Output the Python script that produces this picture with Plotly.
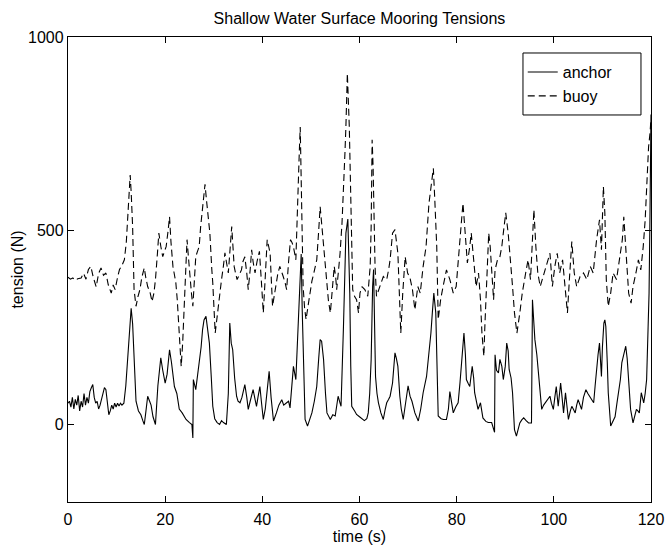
import plotly.graph_objects as go

# ---- data ----
anchor_t = [0, 0.3, 0.6, 0.9, 1.2, 1.5, 1.8, 2.1, 2.4, 2.7, 3.0, 3.3, 3.6, 3.9, 4.2, 4.5, 4.8, 5.1, 5.4, 5.7,
            6.0, 6.3, 6.6, 6.9, 7.2, 7.5, 7.8, 8.1, 8.4, 8.7, 9.0, 9.3, 9.6, 9.9, 10.2, 10.5, 10.8, 11.1, 11.5, 11.9,
            12.3, 12.7, 13.0, 13.3, 13.6, 14.0, 14.5, 15.0, 15.4, 15.7, 16.0, 16.4, 16.8, 17.1, 17.5, 18.0, 18.5, 19.1, 19.5, 20.0,
            20.4, 20.9, 21.3, 21.9, 22.4, 22.9, 23.5, 24.3, 25.0, 25.5, 25.7, 25.8, 26.3, 26.6, 27.0, 27.4, 27.7, 28.0, 28.4, 28.7,
            29.1, 29.5, 29.8, 30.2, 30.7, 31.2, 31.6, 32.0, 32.6, 33.0, 33.3, 33.6, 33.9, 34.3, 34.7, 35.0, 35.4, 35.8, 36.1, 36.4,
            36.8, 37.1, 37.5, 37.8, 38.1, 38.5, 38.8, 39.1, 39.5, 39.8, 40.2, 40.6, 41.0, 41.4, 41.8, 42.3, 42.9, 43.4, 44.0, 44.4,
            45.0, 45.4, 45.7, 46.0, 46.4, 46.9, 47.4, 47.8, 48.0, 48.2, 48.5, 48.8, 49.3, 49.7, 50.2, 50.7, 51.2, 51.6, 51.9, 52.2,
            52.6, 53.0, 53.3, 54.0, 54.5, 55.0, 55.3, 55.6, 56.0, 56.2, 56.7, 57.2, 57.6, 58.0, 58.2, 58.4, 59.0, 59.4, 60.0, 60.5,
            61.0, 61.5, 61.8, 62.1, 62.4, 62.7, 62.9, 63.1, 63.3, 63.6, 63.9, 64.4, 64.9, 65.3, 65.6, 66.0, 66.3, 66.8, 67.1, 67.3,
            67.6, 67.9, 68.3, 68.6, 69.0, 69.3, 69.7, 70.0, 70.4, 70.8, 71.4, 72.1, 72.6, 73.1, 73.8, 74.3, 74.7, 75.0, 75.3, 75.7,
            76.0, 76.2, 76.8, 77.3, 77.9, 78.3, 78.6, 78.9, 79.3, 79.8, 80.3, 80.7, 81.0, 81.5, 81.8, 82.0, 82.4, 82.7, 83.2, 83.5,
            83.7, 84.1, 84.4, 84.9, 85.4, 86.0, 86.5, 87.2, 87.7, 87.8, 87.9, 88.2, 88.6, 88.9, 89.3, 89.6, 90.0, 90.3, 90.6, 90.8,
            91.2, 91.5, 91.9, 92.3, 92.6, 93.0, 93.4, 93.8, 94.3, 94.8, 95.4, 95.6, 95.8, 96.1, 96.5, 96.8, 97.2, 97.5, 97.9, 98.2,
            98.7, 99.2, 99.5, 99.9, 100.2, 100.5, 100.9, 101.4, 101.7, 102.0, 102.4, 102.7, 103.0, 103.4, 103.7, 104.0, 104.4, 104.7, 105.0, 105.4,
            105.7, 106.1, 106.6, 107.0, 107.4, 107.8, 108.2, 108.5, 108.8, 109.1, 109.4, 109.8, 110.0, 110.3, 110.5, 110.7, 111.0, 111.2, 111.7, 112.3,
            112.6, 113.0, 113.4, 113.7, 114.0, 114.4, 114.8, 115.1, 115.3, 115.8, 116.3, 116.6, 117.0, 117.3, 117.6, 118.0, 118.5, 118.8, 119.1, 119.4,
            119.6, 119.8, 120.0]
anchor_v = [55, 60, 45, 70, 40, 65, 50, 75, 35, 60, 45, 80, 50, 70, 55, 85, 95, 103, 70, 55,
            60, 40, 50, 65, 80, 95, 90, 60, 25, 35, 50, 40, 55, 45, 55, 48, 55, 50, 55, 100,
            180, 270, 300, 260, 170, 60, 35, 25, 10, 0, 30, 73, 60, 50, 20, 0, 100, 172, 140, 107,
            130, 193, 160, 98, 80, 40, 30, 13, 5, 0, -35, 116, 90, 120, 159, 200, 245, 270, 279, 250,
            210, 120, 47, 15, 5, 0, 10, 5, 0, 80, 262, 210, 193, 120, 73, 60, 56, 70, 85, 103,
            70, 39, 60, 75, 90, 65, 47, 70, 98, 60, 13, 40, 90, 137, 70, 9, 30, 50, 64, 50,
            56, 60, 43, 90, 150, 116, 253, 400, 440, 300, 120, 13, -4, 10, 30, 60, 98, 170, 219, 215,
            168, 80, 30, 13, 25, 22, 45, 73, 55, 47, 253, 494, 530, 339, 150, 47, 35, 26, 20, 15,
            10, 15, 30, 80, 168, 356, 400, 260, 124, 80, 56, 30, 13, 40, 56, 65, 73, 107, 150, 185,
            170, 150, 73, 40, 13, 40, 82, 100, 73, 60, 30, 9, 40, 82, 124, 180, 236, 290, 339, 288,
            120, 22, 15, 13, 13, 40, 85, 60, 30, 45, 56, 110, 168, 236, 180, 116, 105, 98, 150, 120,
            82, 60, 39, 56, 17, 8, 5, 5, -15, -20, 180, 140, 133, 168, 150, 116, 150, 210, 190, 142,
            120, 82, -13, -30, -15, 4, 12, 17, 10, 4, 4, 322, 280, 219, 180, 142, 80, 39, 50, 56,
            65, 73, 55, 39, 70, 98, 47, 107, 70, 30, 82, 40, 13, 35, 47, 40, 30, 50, 64, 50,
            39, 70, 90, 80, 73, 65, 56, 100, 150, 180, 210, 124, 200, 262, 270, 253, 160, 82, -4, 13,
            20, 56, 90, 116, 160, 185, 202, 170, 124, 39, 4, 20, 39, 35, 30, 82, 56, 80, 116, 250,
            339, 550, 800]

buoy_t = [0, 0.5, 1.0, 1.5, 2.0, 2.7, 3.2, 3.7, 4.2, 4.7, 5.2, 5.8, 6.3, 6.8, 7.3, 7.8, 8.3, 8.9, 9.3, 9.7,
          10.2, 10.6, 11.1, 11.6, 12.0, 12.3, 12.6, 12.8, 13.0, 13.3, 13.6, 14.0, 14.4, 14.8, 15.2, 15.7, 16.0, 16.4, 16.9, 17.3,
          17.7, 18.0, 18.4, 18.7, 19.1, 19.5, 19.8, 20.2, 20.6, 20.9, 21.2, 21.6, 22.0, 22.2, 22.5, 22.8, 23.1, 23.3, 23.6, 23.8,
          24.1, 24.5, 24.8, 25.1, 25.4, 25.7, 26.0, 26.3, 26.6, 27.0, 27.3, 27.6, 28.0, 28.2, 28.5, 28.8, 29.2, 29.6, 29.8, 30.3,
          30.6, 31.0, 31.3, 31.6, 32.0, 32.3, 32.6, 33.0, 33.4, 33.7, 34.0, 34.2, 34.5, 34.8, 35.2, 35.7, 36.0, 36.4, 36.8, 37.1,
          37.5, 37.8, 38.1, 38.5, 38.9, 39.4, 39.8, 40.2, 40.6, 41.0, 41.3, 41.6, 42.1, 42.5, 42.9, 43.2, 43.6, 44.0, 44.3, 44.7,
          45.0, 45.4, 45.8, 46.1, 46.4, 46.9, 47.1, 47.4, 47.6, 47.8, 48.1, 48.4, 48.7, 49.0, 49.4, 49.8, 50.2, 50.6, 51.0, 51.2,
          51.6, 51.9, 52.2, 52.6, 53.0, 53.3, 53.6, 54.0, 54.4, 54.8, 55.1, 55.3, 55.7, 56.0, 56.4, 56.7, 57.0, 57.2, 57.5, 57.9,
          58.2, 58.6, 59.0, 59.4, 59.8, 60.1, 60.5, 61.1, 61.7, 62.2, 62.4, 62.6, 62.8, 63.2, 63.5, 63.9, 64.2, 64.6, 64.9, 65.2,
          65.6, 66.0, 66.3, 66.8, 67.3, 67.9, 68.3, 68.5, 68.9, 69.4, 69.9, 70.4, 70.9, 71.4, 72.0, 72.5, 73.1, 73.7, 74.3, 74.8,
          75.2, 75.5, 75.9, 76.2, 76.7, 77.2, 77.9, 78.6, 79.3, 79.9, 80.4, 80.9, 81.3, 81.7, 82.2, 82.7, 83.0, 83.5, 84.0, 84.5,
          84.9, 85.2, 85.6, 85.8, 86.2, 86.6, 86.9, 87.2, 87.6, 87.9, 88.4, 88.9, 89.3, 89.6, 90.1, 90.6, 91.1, 91.5, 91.9, 92.4,
          93.0, 93.5, 94.2, 94.7, 95.2, 95.6, 95.9, 96.3, 96.7, 97.2, 97.8, 98.5, 99.2, 99.7, 100.2, 100.7, 101.2, 101.8, 102.3, 102.8,
          103.2, 103.7, 104.2, 104.7, 105.4, 106.1, 106.8, 107.5, 108.1, 108.8, 109.4, 109.8, 110.2, 110.5, 110.8, 111.2, 111.7, 112.2, 112.9, 113.5,
          114.1, 114.4, 114.9, 115.4, 115.9, 116.3, 116.9, 117.4, 117.9, 118.4, 118.8, 119.1, 119.5, 119.8, 120.0]
buoy_v = [380, 375, 378, 372, 376, 378, 390, 375, 400, 408, 380, 355, 390, 404, 385, 391, 360, 339, 360, 348,
          380, 400, 410, 425, 470, 536, 600, 644, 600, 511, 348, 305, 330, 348, 380, 404, 380, 356, 340, 317,
          340, 374, 440, 494, 460, 433, 445, 459, 500, 536, 470, 408, 380, 365, 320, 262, 200, 150, 210, 279,
          380, 477, 430, 374, 340, 305, 370, 433, 445, 459, 510, 554, 597, 620, 580, 540, 494, 400, 365, 236,
          270, 305, 340, 374, 410, 443, 420, 391, 460, 511, 450, 408, 390, 374, 385, 399, 420, 433, 390, 348,
          400, 451, 420, 391, 420, 447, 370, 288, 380, 477, 460, 442, 305, 340, 374, 390, 408, 395, 382, 365,
          348, 420, 477, 470, 459, 425, 520, 640, 700, 768, 580, 356, 300, 271, 305, 339, 370, 391, 410, 425,
          500, 562, 520, 459, 400, 348, 320, 288, 350, 408, 380, 348, 400, 442, 520, 597, 700, 768, 906, 768,
          554, 348, 330, 322, 288, 339, 356, 348, 331, 408, 511, 735, 665, 408, 331, 345, 356, 370, 382, 378,
          374, 400, 425, 494, 503, 442, 288, 236, 339, 433, 391, 378, 348, 296, 356, 339, 408, 459, 571, 623,
          661, 580, 459, 271, 322, 356, 399, 374, 339, 356, 425, 511, 571, 494, 417, 459, 494, 425, 356, 391,
          322, 236, 176, 253, 382, 494, 459, 391, 322, 399, 425, 433, 460, 494, 546, 494, 425, 356, 288, 236,
          288, 339, 391, 425, 374, 494, 554, 459, 391, 356, 382, 408, 442, 356, 408, 442, 391, 425, 356, 288,
          374, 472, 391, 356, 382, 391, 374, 408, 391, 477, 528, 451, 614, 546, 374, 305, 339, 391, 374, 425,
          477, 536, 442, 339, 313, 356, 391, 425, 399, 459, 528, 614, 716, 752, 790]

x_ticks = [0, 20, 40, 60, 80, 100, 120]
y_ticks = [0, 500, 1000]

FONT = "Liberation Sans, Arial, Helvetica, sans-serif"
FS = 16

fig = go.Figure()
fig.add_trace(go.Scatter(x=anchor_t, y=anchor_v, mode="lines", name="anchor",
                         line=dict(color="black", width=1.1)))
fig.add_trace(go.Scatter(x=buoy_t, y=buoy_v, mode="lines", name="buoy",
                         line=dict(color="black", width=1.1, dash="7px,4px")))

axis_common = dict(showgrid=False, zeroline=False, showline=True, linecolor="black", linewidth=1.3,
                   mirror="ticks", ticks="inside", ticklen=6, tickcolor="black", tickwidth=1,
                   automargin=False,
                   tickfont=dict(family=FONT, size=FS, color="black"))

fig.update_layout(
    width=665, height=546,
    margin=dict(l=68, r=14, t=37, b=44),
    paper_bgcolor="white", plot_bgcolor="white",
    font=dict(family=FONT, size=FS, color="black"),
    title=dict(text="Shallow Water Surface Mooring Tensions", x=0.5405, xanchor="center",
               y=0.967, yanchor="middle", font=dict(family=FONT, size=FS, color="black")),
    xaxis=dict(range=[0, 120], tickvals=x_ticks, ticklabelstandoff=3,
               title=dict(text="time (s)", standoff=0, font=dict(family=FONT, size=FS)), **axis_common),
    yaxis=dict(range=[-200, 1000], tickvals=y_ticks,
               title=dict(text="tension (N)", standoff=0, font=dict(family=FONT, size=FS)), **axis_common),
    legend=dict(x=0.78, y=0.961, xanchor="left", yanchor="top", bgcolor="rgba(0,0,0,0)",
                borderwidth=0, font=dict(family=FONT, size=FS), tracegroupgap=0),
    showlegend=True,
    # legend frame (opaque white box with black border)
    shapes=[dict(type="rect", xref="paper", yref="paper", x0=0.7804, x1=0.9828, y0=0.8323, y1=0.9656,
                 line=dict(color="black", width=1), fillcolor="white", layer="above")],
)

fig.write_html("out.html", config={"displayModeBar": False},
               post_script="document.body.style.margin='0px';")
